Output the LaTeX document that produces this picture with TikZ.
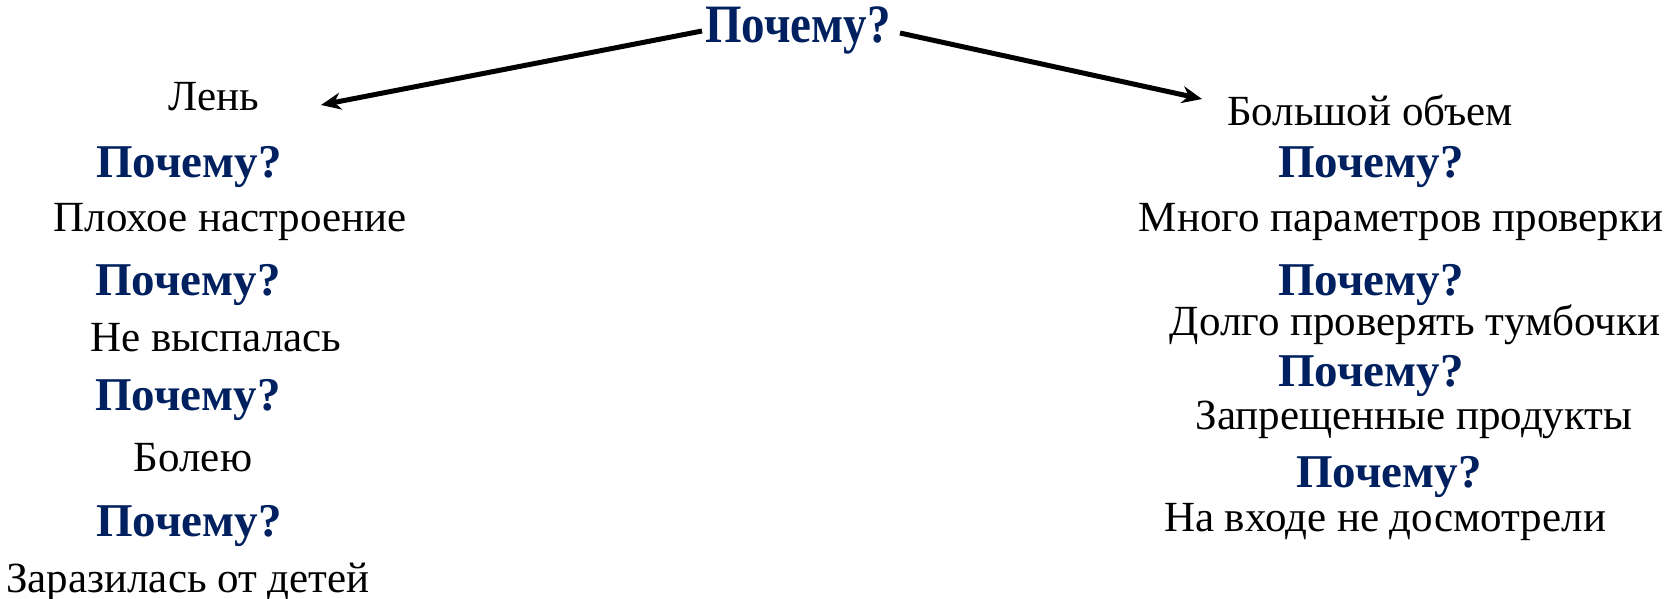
\documentclass[tikz,border=0pt]{standalone}
\usepackage{fontspec}
\setmainfont{Liberation Serif}
\usetikzlibrary{arrows.meta}
\definecolor{navy}{HTML}{002060}
\tikzset{
  why/.style={anchor=base, inner sep=0pt, text=navy, font=\bfseries\fontsize{47}{50}\selectfont},
  ans/.style={anchor=base, inner sep=0pt, text=black, font=\fontsize{43}{48}\selectfont},
  arr/.style={line width=5pt, -{Stealth[length=20pt,width=17pt]}}
}
\begin{document}
\begin{tikzpicture}[x=1pt,y=-1pt]
\useasboundingbox (0,0) rectangle (1680,598);
\node[why] (top) at (798,42) {\scalebox{1}[1.15]{Почему?}};
% left column
\node[ans] (l0) at (214,110) {Лень};
\node[why] (lw1) at (189,177) {Почему?};
\node[ans] (l1) at (230,231) {Плохое настроение};
\node[why] (lw2) at (188,295) {Почему?};
\node[ans] (l2) at (216,351) {Не выспалась};
\node[why] (lw3) at (188,410) {Почему?};
\node[ans] (l3) at (193,471) {Болею};
\node[why] (lw4) at (189,536) {Почему?};
\node[ans] (l4) at (188,592) {Заразилась от детей};
% right column
\node[ans] (r0) at (1370,125) {Большой объем};
\node[why] (rw1) at (1371,177) {Почему?};
\node[ans] (r1) at (1401,231) {Много параметров проверки};
\node[why] (rw2) at (1371,295) {Почему?};
\node[ans] (r2) at (1415,335) {Долго проверять тумбочки};
\node[why] (rw3) at (1371,386) {Почему?};
\node[ans] (r3) at (1414,429) {Запрещенные продукты};
\node[why] (rw4) at (1389,487) {Почему?};
\node[ans] (r4) at (1385,531) {На входе не досмотрели};
% arrows
\coordinate (ltip) at (321,105);
\coordinate (rtip) at (1202,99);
\coordinate (lstart) at (702,31);
\coordinate (rstart) at (900,33);
\draw[arr] (lstart) -- (ltip);
\draw[arr] (rstart) -- (rtip);
\end{tikzpicture}
\end{document}
